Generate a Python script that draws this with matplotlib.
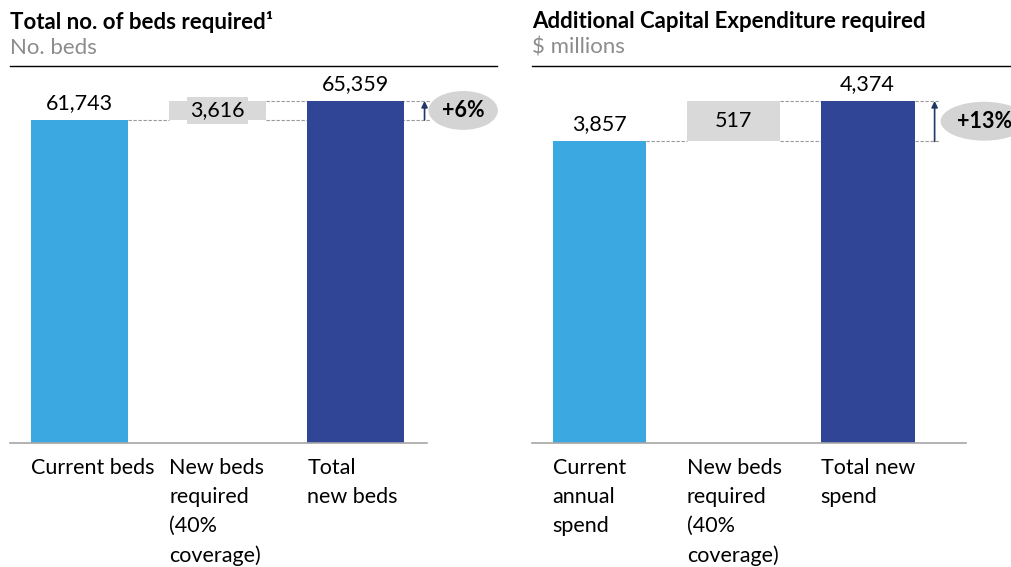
import matplotlib.pyplot as plt
import matplotlib.transforms as mtransforms

plt.rcParams['font.family'] = ['Lato', 'DejaVu Sans']

# data
beds_labels = ["Current beds", "New beds\nrequired\n(40%\ncoverage)", "Total\nnew beds"]
beds_values = [61743, 3616, 65359]
capex_labels = ["Current\nannual\nspend", "New beds\nrequired\n(40%\ncoverage)", "Total new\nspend"]
capex_values = [3857, 517, 4374]
growth_labels = ["+6%", "+13%"]
titles = ["Total no. of beds required\u00b9", "Additional Capital Expenditure required"]
units = ["No. beds", "$ millions"]

LIGHT = "#3BA8E2"
NAVY = "#304595"
GREY = "#D9D9D9"
ARROW = "#1F3864"

W, H = 1011, 567
fig = plt.figure(figsize=(W / 100, H / 100), dpi=100)


def waterfall(ax, labels, vals, pct, xmax, base_end, pct_x):
    start, step, end = vals
    w = 0.7
    ax.bar(0, start, w, color=LIGHT)
    ax.bar(1, step, w, bottom=start, color=GREY)
    ax.bar(2, end, w, color=NAVY)
    ax.set_xlim(-0.504, xmax)
    ax.set_ylim(0, end * 377 / 342)

    # connectors
    dash = dict(color="#999999", lw=0.8, ls=(0, (3, 1.5)), zorder=0)
    ax.plot([0 + w / 2, 1 - w / 2], [start, start], **dash)
    ax.plot([1 + w / 2, 2.54], [start, start], **dash)
    ax.plot([1 + w / 2, 2.54], [end, end], **dash)
    ax.annotate("", xy=(2.5, end), xytext=(2.5, start),
                arrowprops=dict(arrowstyle="-|>", color=ARROW, lw=1.2,
                                mutation_scale=9, shrinkA=0, shrinkB=0))

    # value labels
    fs = 15.5
    ax.annotate(f"{start:,}", (0, start), xytext=(0, 5), textcoords="offset points",
                ha="center", va="bottom", fontsize=fs)
    ax.annotate(f"{end:,}", (2, end), xytext=(0, 5), textcoords="offset points",
                ha="center", va="bottom", fontsize=fs)
    ax.text(1, start + step / 2, f"{step:,}", ha="center", va="center", fontsize=fs,
            bbox=dict(boxstyle="square,pad=0.15", fc=GREY, ec="none"))
    ax.text(pct_x, (start + end) / 2, pct, ha="center", va="center", fontsize=15.5,
            fontweight="bold",
            bbox=dict(boxstyle="ellipse,pad=0.15", fc="#D4D4D4", ec="none"))

    # category labels, left aligned at bar edge
    trans = mtransforms.blended_transform_factory(ax.transData, ax.transAxes)
    for i, lab in enumerate(labels):
        ax.text(i - w / 2, -0.04, lab, transform=trans, ha="left", va="top",
                fontsize=15.5, linespacing=1.56)

    ax.plot([-0.504, base_end], [0, 0], color="#A6A6A6", lw=1.2, clip_on=False)
    for s in ["left", "right", "bottom"]:
        ax.spines[s].set_visible(False)
    ax.spines["top"].set_linewidth(1.0)
    ax.set_xticks([])
    ax.set_yticks([])


ax1 = fig.add_axes([10 / W, (H - 443) / H, 487 / W, 377 / H])
waterfall(ax1, beds_labels, beds_values, growth_labels[0], 3.025, 2.518, 2.78)
ax2 = fig.add_axes([532 / W, (H - 443) / H, 479 / W, 377 / H])
waterfall(ax2, capex_labels, capex_values, growth_labels[1], 3.07, 2.735, 2.87)

for x0, t, u in [(10, titles[0], units[0]), (532, titles[1], units[1])]:
    fig.text(x0 / W, 1 - 22 / H, t, fontsize=16, fontweight="bold", va="center")
    fig.text(x0 / W, 1 - 48 / H, u, fontsize=16, color="#8C8C8C", va="center")

fig.savefig("out.png", dpi=100)
